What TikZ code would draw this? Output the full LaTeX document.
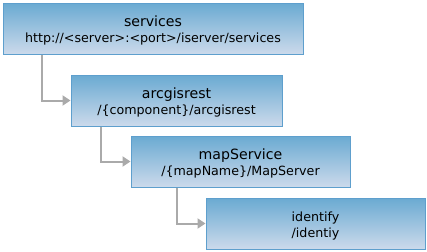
\documentclass[tikz,border=0pt]{standalone}
\usepackage{fontspec}
\setmainfont{DejaVu Sans}
\usetikzlibrary{arrows.meta}
\definecolor{topc}{HTML}{6AAAD2}
\definecolor{botc}{HTML}{CCDAEB}
\definecolor{edgec}{HTML}{5E9FCD}
\definecolor{arrc}{HTML}{AAAAAA}
\newcommand{\titlesz}{\fontsize{10.6}{12}\selectfont}
\tikzset{
  box/.style={rectangle, draw=edgec, line width=0.75pt, top color=topc, bottom color=botc,
    minimum height=51*0.75pt, inner sep=0pt},
  lbl/.style={align=center, inner sep=0pt, text=black,
    font=\fontsize{9.5}{12}\selectfont},
  conn/.style={draw=arrc, line width=1.5pt, -{Triangle[length=6pt,width=7.5pt]}}
}
\begin{document}
\begin{tikzpicture}[x=0.75pt,y=-0.75pt]
\useasboundingbox (0,0) rectangle (427,251);
\node[box, minimum width=300*0.75pt] (b1) at (153,28.5) {};
\node[box, minimum width=211*0.75pt] (b2) at (176.5,100.5) {};
\node[box, minimum width=219*0.75pt] (b3) at (240.5,161.5) {};
\node[box, minimum width=219*0.75pt] (b4) at (315.5,223.5) {};
\node[lbl] (t1) at ([yshift=-1.5pt]b1.center) {{\titlesz services}\\http://<server>:<port>/iserver/services};
\node[lbl] (t2) at ([yshift=-1.5pt]b2.center) {{\titlesz arcgisrest}\\/\{component\}/arcgisrest};
\node[lbl] (t3) at ([yshift=-1.5pt]b3.center) {{\titlesz mapService}\\/\{mapName\}/MapServer};
\node[lbl] (t4) at ([yshift=-1.5pt]b4.center) {identify\\/identiy};
\draw[conn] (b1.south west) ++(39,0) |- (b2.west);
\draw[conn] (b2.south west) ++(30,0) |- (b3.west);
\draw[conn] (b3.south west) ++(46,0) |- (b4.west);
\end{tikzpicture}
\end{document}
